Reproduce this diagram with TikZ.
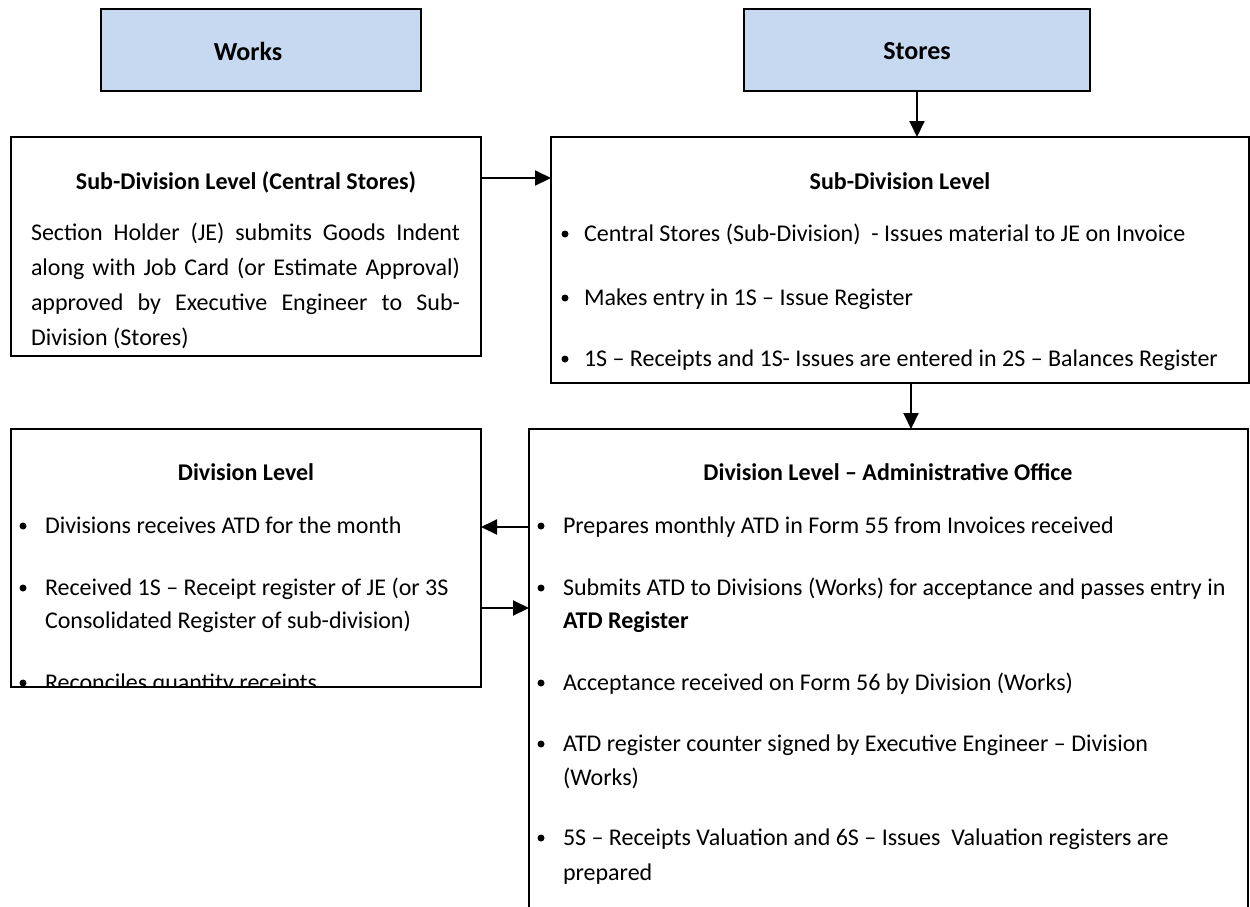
\documentclass[tikz,border=0pt]{standalone}
\usepackage{fontspec}
\setmainfont{Carlito}
\usetikzlibrary{arrows.meta}
\definecolor{headfill}{RGB}{198,217,241}
\begin{document}
\begin{tikzpicture}[x=1pt,y=-1pt,
  box/.style={draw=black, line width=1.8pt, inner sep=0pt, outer sep=0pt},
  headbox/.style={box, fill=headfill, line width=2.6pt},
  headtxt/.style={inner sep=0pt, outer sep=0pt, font=\fontsize{26}{30}\selectfont\bfseries},
  txt/.style={inner sep=0pt, outer sep=0pt, anchor=base west, font=\fontsize{24}{33}\selectfont},
  ttl/.style={inner sep=0pt, outer sep=0pt, anchor=base, font=\fontsize{24}{33}\selectfont\bfseries},
  arr/.style={line width=2pt, -{Triangle[length=16pt,width=15pt]}},
  dot/.style={circle, fill=black, inner sep=0pt, minimum size=7pt}
]
\clip (0,0) rectangle (1250,906);
\fill[white] (0,0) rectangle (1250,906);

% header boxes
\node[headbox, minimum width=320pt, minimum height=82pt] (works) at (261,50) {};
\node[headtxt] (worksT) at (248,51) {Works};
\node[headbox, minimum width=346pt, minimum height=82pt] (stores) at (917,50) {};
\node[headtxt] (storesT) at (917,51) {Stores};

% level boxes
\node[box, minimum width=470pt, minimum height=219pt] (sdcs) at (246,246.5) {};
\node[box, minimum width=698pt, minimum height=246pt] (sdl) at (900,260) {};
\node[box, minimum width=470pt, minimum height=258pt] (div) at (246,558) {};
\node[box, minimum width=719pt, minimum height=501pt] (dlao) at (888.5,679.5) {};

% Sub-Division Level (Central Stores)
\begin{scope}
\clip (sdcs.north west) rectangle (sdcs.south east);
\node[ttl] (sdcsT) at (246,189) {Sub-Division Level (Central Stores)};
\node[txt] (sdcs1) at (31,240) {\makebox[429pt][s]{Section Holder (JE) submits Goods Indent}};
\node[txt] (sdcs2) at (31,275) {\makebox[429pt][s]{along with Job Card (or Estimate Approval)}};
\node[txt] (sdcs3) at (31,310) {\makebox[429pt][s]{approved by Executive Engineer to Sub-}};
\node[txt] (sdcs4) at (31,345) {Division (Stores)};
\end{scope}

% Sub-Division Level
\node[ttl] (sdlT) at (900,189) {Sub-Division Level};
\node[dot] (sdlb1) at (565,234) {};
\node[txt] (sdl1) at (584,241) {Central Stores (Sub-Division)~ - Issues material to JE on Invoice};
\node[dot] (sdlb2) at (565,298) {};
\node[txt] (sdl2) at (584,305) {Makes entry in 1S – Issue Register};
\node[dot] (sdlb3) at (565,359) {};
\node[txt] (sdl3) at (584,366) {1S – Receipts and 1S- Issues are entered in 2S – Balances Register};

% Division Level
\begin{scope}
\clip (div.north west) rectangle (div.south east);
\node[ttl] (divT) at (246,480) {Division Level};
\node[dot] (divb1) at (23,526) {};
\node[txt] (div1) at (45,533) {Divisions receives ATD for the month};
\node[dot] (divb2) at (23,588) {};
\node[txt] (div2a) at (45,595) {Received 1S – Receipt register of JE (or 3S};
\node[txt] (div2b) at (45,628) {Consolidated Register of sub-division)};
\node[dot] (divb3) at (23,683) {};
\node[txt] (div3) at (45,690) {Reconciles quantity receipts};
\end{scope}

% Division Level - Administrative Office
\node[ttl] (dlaoT) at (888,480) {Division Level – Administrative Office};
\node[dot] (dlaob1) at (541,526) {};
\node[txt] (dlao1) at (563,533) {Prepares monthly ATD in Form 55 from Invoices received};
\node[dot] (dlaob2) at (541,588) {};
\node[txt] (dlao2a) at (563,595) {Submits ATD to Divisions (Works) for acceptance and passes entry in};
\node[txt] (dlao2b) at (563,628) {\bfseries ATD Register};
\node[dot] (dlaob3) at (541,683) {};
\node[txt] (dlao3) at (563,690) {Acceptance received on Form 56 by Division (Works)};
\node[dot] (dlaob4) at (541,744) {};
\node[txt] (dlao4a) at (563,751) {ATD register counter signed by Executive Engineer – Division};
\node[txt] (dlao4b) at (563,785) {(Works)};
\node[dot] (dlaob5) at (541,838) {};
\node[txt] (dlao5a) at (563,845) {5S – Receipts Valuation and 6S – Issues~ Valuation registers are};
\node[txt] (dlao5b) at (563,880) {prepared};

% connectors
\coordinate (rowA) at (0,178);
\coordinate (colA) at (911,0);
\coordinate (rowB) at (0,527);
\coordinate (rowC) at (0,608);
\draw[arr] (stores.south) -- (sdl.north -| stores.south);
\draw[arr] (sdcs.east |- rowA) -- (sdl.west |- rowA);
\draw[arr] (sdl.south -| colA) -- (dlao.north -| colA);
\draw[arr] (dlao.west |- rowB) -- (div.east |- rowB);
\draw[arr] (div.east |- rowC) -- (dlao.west |- rowC);
\end{tikzpicture}
\end{document}
